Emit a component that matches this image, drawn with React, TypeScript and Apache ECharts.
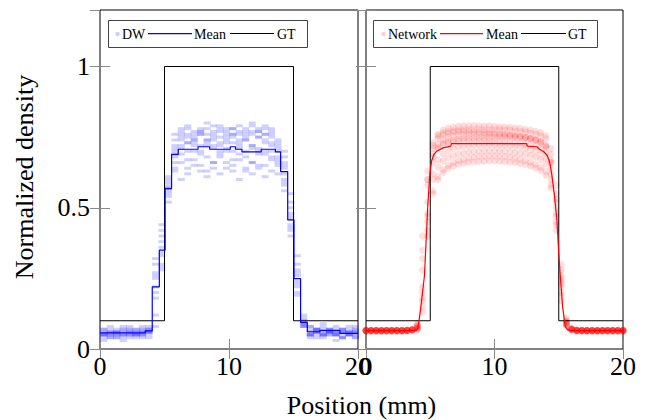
import React, { useEffect, useRef } from "react";
import * as echarts from "echarts";

// ---------- data ----------
const GT_X = [0, 5, 15, 20];
const GT_Y = [0.1, 1, 0.1, 0.1];

const DW_X = [0.3, 0.8, 1.3, 1.8, 2.3, 2.8, 3.3, 3.8, 4.3, 4.8, 5.3, 5.8, 6.3, 6.8, 7.3, 7.8, 8.3, 8.8, 9.3, 9.8,
  10.3, 10.8, 11.3, 11.8, 12.3, 12.8, 13.3, 13.8, 14.3, 14.8, 15.3, 15.8, 16.3, 16.8, 17.3, 17.8, 18.3, 18.8, 19.3, 19.8];

const DW_RUN_1 = [0.05, 0.06, 0.05, 0.05, 0.06, 0.06, 0.07, 0.07, 0.25, 0.38, 0.57, 0.70, 0.74, 0.75, 0.77, 0.76, 0.74, 0.75, 0.78, 0.76, 0.75, 0.74, 0.77, 0.76, 0.75, 0.78, 0.76, 0.71, 0.64, 0.47, 0.27, 0.10, 0.06, 0.07, 0.06, 0.05, 0.06, 0.07, 0.06, 0.05];
const DW_RUN_2 = [0.04, 0.05, 0.06, 0.05, 0.04, 0.05, 0.06, 0.06, 0.18, 0.33, 0.55, 0.68, 0.72, 0.70, 0.73, 0.69, 0.72, 0.74, 0.70, 0.71, 0.73, 0.69, 0.70, 0.72, 0.71, 0.69, 0.70, 0.68, 0.60, 0.44, 0.22, 0.09, 0.05, 0.06, 0.05, 0.06, 0.05, 0.04, 0.05, 0.06];
const DW_RUN_3 = [0.07, 0.06, 0.07, 0.08, 0.07, 0.06, 0.07, 0.08, 0.30, 0.42, 0.60, 0.76, 0.78, 0.79, 0.76, 0.78, 0.80, 0.77, 0.79, 0.78, 0.76, 0.79, 0.78, 0.80, 0.77, 0.79, 0.78, 0.74, 0.70, 0.55, 0.33, 0.12, 0.08, 0.07, 0.08, 0.07, 0.06, 0.07, 0.08, 0.07];
const DW_RUN_4 = [0.05, 0.04, 0.05, 0.06, 0.05, 0.05, 0.04, 0.06, 0.12, 0.30, 0.52, 0.63, 0.66, 0.64, 0.67, 0.65, 0.63, 0.66, 0.68, 0.64, 0.65, 0.67, 0.63, 0.66, 0.64, 0.65, 0.67, 0.62, 0.56, 0.40, 0.19, 0.08, 0.05, 0.04, 0.05, 0.06, 0.05, 0.04, 0.05, 0.04];
const DW_RUN_5 = [0.06, 0.07, 0.06, 0.06, 0.07, 0.07, 0.06, 0.07, 0.27, 0.36, 0.58, 0.72, 0.75, 0.73, 0.74, 0.76, 0.73, 0.72, 0.75, 0.74, 0.76, 0.73, 0.74, 0.72, 0.75, 0.74, 0.73, 0.72, 0.66, 0.50, 0.26, 0.10, 0.07, 0.06, 0.07, 0.06, 0.07, 0.06, 0.06, 0.07];
const DW_RUN_6 = [0.03, 0.04, 0.04, 0.03, 0.05, 0.04, 0.05, 0.04, 0.08, 0.28, 0.54, 0.66, 0.69, 0.67, 0.70, 0.72, 0.68, 0.66, 0.69, 0.70, 0.67, 0.71, 0.68, 0.66, 0.69, 0.70, 0.68, 0.66, 0.58, 0.42, 0.24, 0.08, 0.04, 0.05, 0.04, 0.05, 0.03, 0.04, 0.05, 0.04];
const DW_RUN_7 = [0.06, 0.05, 0.06, 0.07, 0.06, 0.05, 0.06, 0.06, 0.22, 0.40, 0.56, 0.71, 0.77, 0.76, 0.74, 0.77, 0.78, 0.76, 0.73, 0.77, 0.78, 0.76, 0.75, 0.77, 0.78, 0.76, 0.77, 0.70, 0.65, 0.48, 0.28, 0.09, 0.06, 0.07, 0.06, 0.06, 0.05, 0.06, 0.07, 0.06];
const DW_RUN_8 = [0.05, 0.06, 0.05, 0.04, 0.05, 0.06, 0.05, 0.05, 0.20, 0.34, 0.59, 0.69, 0.60, 0.62, 0.65, 0.63, 0.61, 0.64, 0.62, 0.66, 0.63, 0.60, 0.64, 0.62, 0.65, 0.61, 0.63, 0.65, 0.62, 0.43, 0.23, 0.09, 0.05, 0.06, 0.05, 0.07, 0.06, 0.05, 0.06, 0.05];
const DW_RUN_9 = [0.07, 0.08, 0.06, 0.07, 0.08, 0.07, 0.08, 0.07, 0.32, 0.44, 0.57, 0.74, 0.76, 0.78, 0.75, 0.77, 0.76, 0.79, 0.77, 0.75, 0.78, 0.77, 0.76, 0.79, 0.77, 0.76, 0.75, 0.73, 0.68, 0.52, 0.30, 0.11, 0.08, 0.07, 0.09, 0.07, 0.08, 0.07, 0.06, 0.08];
const DW_RUN_10 = [0.05, 0.05, 0.04, 0.05, 0.06, 0.05, 0.05, 0.06, 0.26, 0.29, 0.61, 0.64, 0.71, 0.73, 0.72, 0.70, 0.74, 0.71, 0.72, 0.73, 0.70, 0.72, 0.74, 0.71, 0.70, 0.73, 0.72, 0.67, 0.59, 0.46, 0.20, 0.08, 0.05, 0.06, 0.05, 0.06, 0.05, 0.06, 0.05, 0.06];
const DW_RUNS = [DW_RUN_1, DW_RUN_2, DW_RUN_3, DW_RUN_4, DW_RUN_5, DW_RUN_6, DW_RUN_7, DW_RUN_8, DW_RUN_9, DW_RUN_10];

const DW_MEAN_X = [0, 3.5, 4.05, 4.6, 5.05, 5.55, 6.07, 7.6, 8.5, 10.1, 10.5, 11, 12.5, 13.6, 14.0, 14.55, 15.04, 15.55, 16.07, 17.05, 18.6, 20];
const DW_MEAN_Y = [0.057, 0.064, 0.22, 0.35, 0.568, 0.689, 0.707, 0.716, 0.707, 0.716, 0.707, 0.698, 0.707, 0.698, 0.628, 0.457, 0.249, 0.094, 0.061, 0.066, 0.055, 0.055];

const NET_X = [0, 0.4, 0.8, 1.2, 1.6, 2, 2.4, 2.8, 3.2, 3.6, 4, 4.4, 4.8, 5.2, 5.6, 6, 6.4, 6.8, 7.2, 7.6, 8, 8.4, 8.8, 9.2, 9.6,
  10, 10.4, 10.8, 11.2, 11.6, 12, 12.4, 12.8, 13.2, 13.6, 14, 14.4, 14.8, 15.2, 15.6, 16, 16.4, 16.8, 17.2, 17.6, 18, 18.4, 18.8, 19.2, 19.6, 20];

const NET_RUN_1 = [0.066, 0.065, 0.066, 0.064, 0.065, 0.066, 0.065, 0.066, 0.067, 0.068,
  0.085, 0.32, 0.6, 0.72, 0.76, 0.775, 0.782, 0.786, 0.788, 0.79, 0.79, 0.791, 0.79, 0.789, 0.79, 0.788, 0.787, 0.786, 0.785, 0.783, 0.781, 0.778, 0.775, 0.771, 0.766,
  0.755, 0.71, 0.58, 0.3, 0.11, 0.075,
  0.068, 0.066, 0.065, 0.066, 0.064, 0.065, 0.066, 0.065, 0.064, 0.065];
const NET_RUN_2 = [0.064, 0.066, 0.065, 0.065, 0.067, 0.064, 0.066, 0.065, 0.066, 0.069,
  0.09, 0.4, 0.63, 0.73, 0.755, 0.765, 0.77, 0.772, 0.775, 0.776, 0.777, 0.776, 0.778, 0.777, 0.776, 0.777, 0.776, 0.775, 0.774, 0.772, 0.77, 0.768, 0.764, 0.76, 0.755,
  0.745, 0.69, 0.55, 0.26, 0.1, 0.072,
  0.067, 0.065, 0.066, 0.064, 0.066, 0.065, 0.065, 0.067, 0.066, 0.064];
const NET_RUN_3 = [0.065, 0.064, 0.066, 0.066, 0.065, 0.065, 0.067, 0.066, 0.065, 0.068,
  0.08, 0.28, 0.58, 0.71, 0.745, 0.758, 0.764, 0.768, 0.77, 0.77, 0.769, 0.768, 0.767, 0.766, 0.765, 0.764, 0.762, 0.76, 0.758, 0.756, 0.753, 0.75, 0.746, 0.741, 0.735,
  0.72, 0.66, 0.5, 0.22, 0.095, 0.07,
  0.066, 0.065, 0.064, 0.066, 0.065, 0.066, 0.064, 0.065, 0.067, 0.065];
const NET_RUN_4 = [0.066, 0.065, 0.065, 0.064, 0.066, 0.066, 0.065, 0.064, 0.066, 0.067,
  0.078, 0.22, 0.52, 0.68, 0.725, 0.742, 0.75, 0.754, 0.757, 0.758, 0.759, 0.76, 0.76, 0.759, 0.76, 0.759, 0.758, 0.757, 0.756, 0.754, 0.752, 0.749, 0.745, 0.74, 0.733,
  0.72, 0.67, 0.53, 0.28, 0.1, 0.071,
  0.065, 0.066, 0.065, 0.064, 0.065, 0.066, 0.065, 0.064, 0.066, 0.065];
const NET_RUN_5 = [0.065, 0.066, 0.064, 0.065, 0.065, 0.066, 0.064, 0.065, 0.066, 0.067,
  0.075, 0.18, 0.48, 0.66, 0.71, 0.728, 0.736, 0.74, 0.743, 0.745, 0.746, 0.747, 0.748, 0.748, 0.749, 0.749, 0.75, 0.75, 0.75, 0.749, 0.748, 0.746, 0.743, 0.738, 0.73,
  0.715, 0.66, 0.52, 0.25, 0.09, 0.07,
  0.066, 0.064, 0.065, 0.066, 0.065, 0.064, 0.066, 0.065, 0.065, 0.066];
const NET_RUN_6 = [0.064, 0.065, 0.066, 0.065, 0.064, 0.065, 0.066, 0.065, 0.065, 0.068,
  0.082, 0.35, 0.6, 0.69, 0.715, 0.725, 0.73, 0.733, 0.735, 0.736, 0.737, 0.737, 0.738, 0.738, 0.737, 0.737, 0.736, 0.735, 0.734, 0.732, 0.73, 0.727, 0.723, 0.718, 0.71,
  0.695, 0.64, 0.48, 0.2, 0.085, 0.069,
  0.065, 0.065, 0.066, 0.065, 0.064, 0.065, 0.066, 0.064, 0.065, 0.066];
const NET_RUN_7 = [0.066, 0.064, 0.065, 0.066, 0.065, 0.064, 0.065, 0.066, 0.066, 0.067,
  0.072, 0.15, 0.45, 0.62, 0.67, 0.69, 0.702, 0.71, 0.715, 0.718, 0.72, 0.722, 0.723, 0.723, 0.724, 0.723, 0.722, 0.721, 0.72, 0.718, 0.715, 0.711, 0.706, 0.7, 0.69,
  0.675, 0.62, 0.47, 0.23, 0.09, 0.07,
  0.066, 0.065, 0.064, 0.065, 0.066, 0.065, 0.064, 0.066, 0.065, 0.064];
const NET_RUN_8 = [0.065, 0.065, 0.064, 0.066, 0.066, 0.065, 0.064, 0.065, 0.067, 0.068,
  0.074, 0.2, 0.47, 0.6, 0.645, 0.665, 0.677, 0.685, 0.69, 0.694, 0.697, 0.699, 0.7, 0.701, 0.702, 0.702, 0.701, 0.7, 0.698, 0.696, 0.693, 0.69, 0.685, 0.679, 0.67,
  0.655, 0.6, 0.44, 0.19, 0.085, 0.068,
  0.065, 0.066, 0.065, 0.065, 0.064, 0.066, 0.065, 0.065, 0.066, 0.065];
const NET_RUN_9 = [0.066, 0.065, 0.065, 0.065, 0.064, 0.066, 0.065, 0.065, 0.066, 0.067,
  0.07, 0.13, 0.4, 0.56, 0.61, 0.635, 0.65, 0.66, 0.667, 0.672, 0.676, 0.679, 0.681, 0.682, 0.683, 0.683, 0.682, 0.681, 0.679, 0.676, 0.672, 0.667, 0.661, 0.653, 0.643,
  0.628, 0.58, 0.42, 0.17, 0.08, 0.068,
  0.064, 0.065, 0.066, 0.066, 0.065, 0.064, 0.065, 0.066, 0.064, 0.065];
const NET_RUN_10 = [0.065, 0.066, 0.065, 0.064, 0.065, 0.065, 0.066, 0.064, 0.065, 0.068,
  0.071, 0.17, 0.42, 0.55, 0.6, 0.625, 0.64, 0.648, 0.654, 0.658, 0.661, 0.663, 0.664, 0.665, 0.666, 0.666, 0.665, 0.664, 0.662, 0.66, 0.657, 0.653, 0.648, 0.641, 0.632,
  0.615, 0.57, 0.45, 0.24, 0.095, 0.07,
  0.066, 0.065, 0.065, 0.064, 0.066, 0.065, 0.066, 0.065, 0.064, 0.066];
const NET_RUNS = [NET_RUN_1, NET_RUN_2, NET_RUN_3, NET_RUN_4, NET_RUN_5, NET_RUN_6, NET_RUN_7, NET_RUN_8, NET_RUN_9, NET_RUN_10];

const NET_MEAN_X = [0, 2, 3.9, 4.05, 4.3, 4.55, 4.8, 4.95, 5.1, 5.3, 5.5, 6.0, 6.6, 6.65, 12.5, 12.55, 13.3, 13.5, 13.8, 14.1, 14.3, 14.45, 14.65, 14.85, 15.0, 15.1, 15.3, 15.5, 15.7, 16, 18, 20];
const NET_MEAN_Y = [0.065, 0.065, 0.066, 0.075, 0.16, 0.26, 0.5, 0.61, 0.665, 0.69, 0.70, 0.712, 0.718, 0.727, 0.727, 0.718, 0.716, 0.707, 0.70, 0.685, 0.66, 0.62, 0.55, 0.46, 0.34, 0.27, 0.15, 0.08, 0.068, 0.065, 0.065, 0.065];

const X_MIN = 0, X_MAX = 20, X_STEP = 10;
const Y_MIN = 0, Y_MAX = 1.2, Y_STEP = 0.5;

const LEFT_LEGEND = ["DW", "Mean", "GT"];
const RIGHT_LEGEND = ["Network", "Mean", "GT"];
const X_TITLE = "Position (mm)";
const Y_TITLE = "Normalized density";

// ---------- helpers ----------
const FONT = "Liberation Serif";
const zip = (xs: number[], ys: number[]) => xs.map((x, i) => [x, ys[i]]);

export default function App() {
  const ref = useRef<HTMLDivElement>(null);
  useEffect(() => {
    const chart = echarts.init(ref.current!, null, { renderer: "svg" });
    const dwPoints = DW_RUNS.flatMap((run) => run.map((v, i) => [DW_X[i], v]));
    const netPoints = NET_RUNS.flatMap((run) => run.map((v, i) => [NET_X[i], v]));

    const tick = { show: true, inside: true, length: 10, lineStyle: { color: "#8a8a8a", width: 1 } };
    const xAxis = (gridIndex: number, position: string, showLabel: boolean) => ({
      type: "value", gridIndex, position, min: X_MIN, max: X_MAX, interval: X_STEP,
      axisLine: { show: false }, axisTick: tick, splitLine: { show: false },
      axisLabel: { show: showLabel, fontFamily: FONT, fontSize: 26, color: "#000", margin: 4 },
    });
    const yAxis = (gridIndex: number, position: string, showLabel: boolean) => ({
      type: "value", gridIndex, position, min: Y_MIN, max: Y_MAX, interval: Y_STEP,
      axisLine: { show: false }, axisTick: tick, splitLine: { show: false },
      axisLabel: { show: showLabel, showMaxLabel: false, fontFamily: FONT, fontSize: 26, color: "#000", margin: 10,
        formatter: (v: number) => String(v) },
    });

    const legend = (x0: number, w: number, names: string[], color: string, pos: number[]) => ({
      type: "group", z: 100, children: [
        { type: "rect", shape: { x: x0 + 0.5, y: 20.5, width: w, height: 27 }, style: { fill: "#fff", stroke: "#444", lineWidth: 1 } },
        { type: "circle", shape: { cx: pos[0], cy: 34, r: 2.2 }, style: { fill: color, opacity: 0.2 } },
        { type: "text", x: pos[1], y: 34, style: { text: names[0], font: `14px '${FONT}'`, fill: "#000", verticalAlign: "middle" } },
        { type: "rect", shape: { x: pos[2], y: 33, width: pos[3] - pos[2], height: 1.2 }, style: { fill: color } },
        { type: "text", x: pos[4], y: 34, style: { text: names[1], font: `14px '${FONT}'`, fill: "#000", verticalAlign: "middle" } },
        { type: "rect", shape: { x: pos[5], y: 33, width: pos[6] - pos[5], height: 1 }, style: { fill: "#000" } },
        { type: "text", x: pos[7], y: 34, style: { text: names[2], font: `14px '${FONT}'`, fill: "#000", verticalAlign: "middle" } },
      ],
    });

    chart.setOption({
      animation: false,
      grid: [
        { left: 100, top: 10, width: 258, height: 339, show: true, borderColor: "#000", borderWidth: 1, backgroundColor: "transparent" },
        { left: 366, top: 10, width: 257, height: 339, show: true, borderColor: "#000", borderWidth: 1, backgroundColor: "transparent" },
      ],
      xAxis: [xAxis(0, "bottom", true), xAxis(1, "bottom", true), xAxis(0, "top", false), xAxis(1, "top", false)],
      yAxis: [yAxis(0, "left", true), yAxis(1, "left", false), yAxis(0, "right", false), yAxis(1, "right", false)],
      series: [
        { type: "scatter", xAxisIndex: 0, yAxisIndex: 0, data: dwPoints, symbol: "rect", symbolSize: [7, 3],
          itemStyle: { color: "#0000ff", opacity: 0.18 }, silent: true },
        { type: "line", xAxisIndex: 0, yAxisIndex: 0, data: zip(GT_X, GT_Y), step: "end", showSymbol: false,
          lineStyle: { color: "#000", width: 1 }, silent: true },
        { type: "line", xAxisIndex: 0, yAxisIndex: 0, data: zip(DW_MEAN_X, DW_MEAN_Y), step: "end", showSymbol: false,
          lineStyle: { color: "#0000ff", width: 1.2 }, silent: true },
        { type: "scatter", xAxisIndex: 1, yAxisIndex: 1, data: netPoints, symbol: "circle", symbolSize: 7,
          itemStyle: { color: "#ff0000", opacity: 0.13 }, silent: true },
        { type: "line", xAxisIndex: 1, yAxisIndex: 1, data: zip(GT_X, GT_Y), step: "end", showSymbol: false,
          lineStyle: { color: "#000", width: 1 }, silent: true },
        { type: "line", xAxisIndex: 1, yAxisIndex: 1, data: zip(NET_MEAN_X, NET_MEAN_Y), showSymbol: false,
          lineStyle: { color: "#ff0000", width: 1.2 }, silent: true },
      ],
      graphic: [
        legend(108, 199, LEFT_LEGEND, "#0000ff", [117.5, 122, 148, 192, 194, 230, 274, 277]),
        legend(373, 224, RIGHT_LEGEND, "#ff0000", [383.5, 388, 440, 483, 486, 521, 566, 568]),
        { type: "text", x: 361.5, y: 405, z: 100, style: { text: X_TITLE, font: `26px '${FONT}'`, fill: "#000", align: "center", verticalAlign: "middle" } },
        { type: "text", x: 24, y: 177, rotation: Math.PI / 2, z: 100, style: { text: Y_TITLE, font: `26px '${FONT}'`, fill: "#000", align: "center", verticalAlign: "middle" } },
      ],
    });
    return () => chart.dispose();
  }, []);
  return <div ref={ref} style={{ position: "fixed", left: 0, top: 0, width: 649, height: 420, background: "#fff" }} />;
}
